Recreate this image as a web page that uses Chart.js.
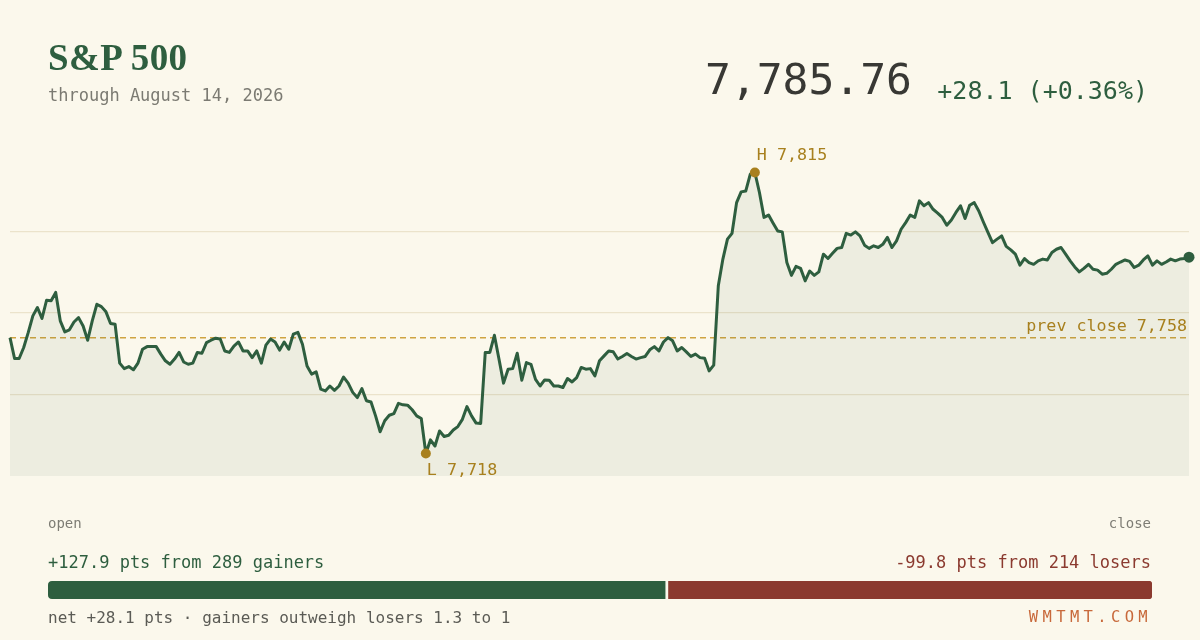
<!DOCTYPE html>
<html>
<head>
<meta charset="utf-8">
<script src="https://cdn.jsdelivr.net/npm/chart.js@4/dist/chart.umd.min.js"></script>
<style>
  html, body { margin: 0; padding: 0; background: #fbf8ec; }
  #wrap { position: relative; width: 1200px; height: 640px; overflow: hidden; background: #fbf8ec; }
  .t { position: absolute; line-height: 1; white-space: nowrap; font-family: "DejaVu Sans Mono", "Liberation Mono", monospace; }
  #title { left: 48px; top: 39px; font-family: "Liberation Serif", "DejaVu Serif", serif; font-weight: bold; font-size: 37px; letter-spacing: 0.4px; color: #2e5e3f; }
  #sub { left: 48px; top: 87px; font-size: 17px; color: #7b7a72; }
  #last { right: 288px; top: 58px; font-size: 43px; color: #383834; }
  #chg { right: 52px; top: 78px; font-size: 25px; color: #2e5e3f; }
  #open { left: 48px; top: 516px; font-size: 14px; color: #7d7c74; }
  #close { right: 49px; top: 516px; font-size: 14px; color: #7d7c74; }
  #gain { left: 48px; top: 554px; font-size: 17px; color: #2e5e3f; }
  #lose { right: 49px; top: 554px; font-size: 17px; color: #8b3a2f; }
  #net { left: 48px; top: 610px; font-size: 16px; color: #5b5b55; }
  #brand { right: 48px; top: 610px; font-size: 15.5px; letter-spacing: 4.35px; color: #c8693b; }
  #main { position: absolute; left: 0; top: 0; }
  #split { position: absolute; left: 48px; top: 581px; }
</style>
</head>
<body>
<div id="wrap">
  <canvas id="main" width="1200" height="640"></canvas>
  <div class="t" id="title"></div>
  <div class="t" id="sub"></div>
  <div class="t" id="last"></div>
  <div class="t" id="chg"></div>
  <div class="t" id="open">open</div>
  <div class="t" id="close">close</div>
  <div class="t" id="gain"></div>
  <div class="t" id="lose"></div>
  <div class="t" id="net"></div>
  <div class="t" id="brand">WMTMT.COM</div>
  <canvas id="split" width="1104" height="18"></canvas>
</div>
<script>
const TITLE = "S&P 500";
const AS_OF = "through August 14, 2026";
const PREV_CLOSE = 7758;
const LAST = 7785.76;
const CHANGE = 28.1;
const CHANGE_PCT = 0.36;
const GAIN_PTS = 127.9;
const GAINERS = 289;
const LOSS_PTS = 99.8;
const LOSERS = 214;

// intraday index level, open -> close
const prices = [
  7758.0, 7750.8, 7750.8, 7754.6, 7759.8, 7765.5, 7768.4, 7764.6, 7770.9, 7770.7,
  7773.6, 7763.8, 7760.0, 7760.7, 7763.4, 7764.9, 7762.0, 7757.1, 7763.8, 7769.5,
  7768.7, 7766.9, 7762.9, 7762.6, 7749.2, 7747.3, 7748.0, 7746.9, 7749.2, 7754.0,
  7754.9, 7754.9, 7754.9, 7752.3, 7750.0, 7748.8, 7750.6, 7752.9, 7749.6, 7748.8,
  7749.2, 7752.9, 7752.6, 7756.3, 7757.1, 7757.8, 7757.5, 7753.4, 7752.9, 7755.1,
  7756.5, 7753.4, 7753.4, 7751.1, 7753.4, 7749.2, 7755.4, 7757.5, 7756.5, 7753.7,
  7756.5, 7754.0, 7759.2, 7759.8, 7755.7, 7748.2, 7745.4, 7746.2, 7740.2, 7739.6,
  7741.3, 7739.8, 7741.3, 7744.4, 7742.3, 7739.1, 7737.3, 7740.4, 7736.2, 7735.8,
  7731.0, 7725.5, 7729.3, 7731.2, 7731.8, 7735.3, 7734.8, 7734.7, 7733.1, 7731.0,
  7730.1, 7718.0, 7722.7, 7720.6, 7725.8, 7723.9, 7724.3, 7726.1, 7727.3, 7729.8,
  7734.2, 7731.0, 7728.5, 7728.4, 7752.9, 7752.9, 7758.8, 7750.6, 7742.3, 7747.1,
  7747.3, 7752.6, 7743.3, 7749.4, 7748.8, 7743.6, 7741.3, 7743.4, 7743.3, 7741.3,
  7741.3, 7740.8, 7743.9, 7742.7, 7744.2, 7747.7, 7747.1, 7747.3, 7744.8, 7750.0,
  7751.7, 7753.4, 7753.1, 7750.6, 7751.5, 7752.5, 7751.5, 7750.6, 7751.1, 7751.5,
  7753.8, 7754.9, 7753.4, 7756.5, 7758.0, 7756.9, 7753.4, 7754.6, 7753.1, 7751.5,
  7752.3, 7751.1, 7750.9, 7746.5, 7748.5, 7775.9, 7785.1, 7792.0, 7794.0, 7804.6,
  7808.3, 7808.6, 7814.4, 7815.0, 7808.1, 7799.5, 7800.3, 7797.5, 7794.8, 7794.5,
  7783.9, 7779.5, 7782.6, 7781.9, 7777.6, 7781.0, 7779.5, 7780.7, 7786.8, 7785.3,
  7787.1, 7788.8, 7789.1, 7794.0, 7793.4, 7794.5, 7793.1, 7789.9, 7788.8, 7789.7,
  7789.1, 7790.2, 7792.6, 7789.1, 7791.4, 7795.4, 7797.7, 7800.3, 7799.5, 7805.2,
  7803.5, 7804.6, 7802.3, 7801.0, 7799.5, 7796.8, 7798.6, 7801.2, 7803.5, 7799.1,
  7803.7, 7804.6, 7801.7, 7797.9, 7794.3, 7790.8, 7792.0, 7793.1, 7789.5, 7788.3,
  7786.8, 7783.0, 7785.3, 7783.9, 7783.3, 7784.5, 7785.1, 7784.8, 7787.4, 7788.5,
  7789.1, 7786.8, 7784.5, 7782.4, 7780.7, 7781.9, 7783.3, 7781.6, 7781.3, 7779.9,
  7780.2, 7781.6, 7783.3, 7784.1, 7784.8, 7784.3, 7782.2, 7783.0, 7784.8, 7786.2,
  7783.0, 7784.5, 7783.3, 7784.1, 7785.1, 7784.5, 7785.1, 7785.3, 7785.76
];
const minutes = prices.map((_, i) => i);

const GREEN = "#2e5e3f";
const RED = "#8b3a2f";
const GOLD = "#a8801e";
const BG = "#fbf8ec";

const fmt = (v, d) => v.toLocaleString("en-US", { minimumFractionDigits: d, maximumFractionDigits: d });

// header / footer text
document.getElementById("title").textContent = TITLE;
document.getElementById("sub").textContent = AS_OF;
document.getElementById("last").textContent = fmt(LAST, 2);
document.getElementById("chg").textContent = "+" + fmt(CHANGE, 1) + " (+" + fmt(CHANGE_PCT, 2) + "%)";
document.getElementById("gain").textContent = "+" + fmt(GAIN_PTS, 1) + " pts from " + GAINERS + " gainers";
document.getElementById("lose").textContent = "-" + fmt(LOSS_PTS, 1) + " pts from " + LOSERS + " losers";
document.getElementById("net").textContent = "net +" + fmt(CHANGE, 1) + " pts \u00b7 gainers outweigh losers " + (GAIN_PTS / LOSS_PTS).toFixed(1) + " to 1";

const hi = Math.max(...prices);
const lo = Math.min(...prices);
const hiIdx = prices.indexOf(hi);
const loIdx = prices.indexOf(lo);
const lastIdx = prices.length - 1;
const pad = (hi - lo) * 0.08;
const yMin = lo - pad;
const yMax = hi + pad;

const MONO = '"DejaVu Sans Mono", "Liberation Mono", monospace';

const marks = {
  id: "marks",
  beforeDatasetsDraw(chart) {
    const { ctx, chartArea, scales } = chart;
    const y = scales.y.getPixelForValue(PREV_CLOSE);
    ctx.save();
    ctx.strokeStyle = "#cfa442";
    ctx.lineWidth = 1.5;
    ctx.setLineDash([6, 4]);
    ctx.beginPath();
    ctx.moveTo(chartArea.left, y);
    ctx.lineTo(chartArea.right, y);
    ctx.stroke();
    ctx.restore();
  },
  afterDatasetsDraw(chart) {
    const { ctx, chartArea, scales } = chart;
    ctx.save();
    ctx.font = "16.7px " + MONO;
    ctx.fillStyle = GOLD;
    ctx.textBaseline = "alphabetic";
    ctx.textAlign = "left";
    const hx = scales.x.getPixelForValue(hiIdx);
    const hy = scales.y.getPixelForValue(hi);
    ctx.fillText("H " + fmt(Math.round(hi), 0), hx + 2, hy - 12);
    const lx = scales.x.getPixelForValue(loIdx);
    const ly = scales.y.getPixelForValue(lo);
    ctx.fillText("L " + fmt(Math.round(lo), 0), lx + 1, ly + 21);
    ctx.textAlign = "right";
    ctx.fillText("prev close " + fmt(PREV_CLOSE, 0), chartArea.right - 2, scales.y.getPixelForValue(PREV_CLOSE) - 7);
    ctx.restore();
  }
};

new Chart(document.getElementById("main"), {
  type: "line",
  data: {
    labels: minutes,
    datasets: [{
      data: prices,
      borderColor: GREEN,
      borderWidth: 3,
      borderJoinStyle: "round",
      backgroundColor: "rgba(46, 94, 63, 0.065)",
      fill: "start",
      tension: 0,
      clip: false,
      pointRadius: (c) => (c.dataIndex === lastIdx ? 5.5 : (c.dataIndex === hiIdx || c.dataIndex === loIdx ? 5 : 0)),
      pointBackgroundColor: (c) => (c.dataIndex === lastIdx ? GREEN : GOLD),
      pointBorderWidth: 0,
      pointHoverRadius: 0
    }]
  },
  options: {
    responsive: false,
    animation: false,
    events: [],
    layout: { padding: { left: 10, right: 11, top: 150, bottom: 164 } },
    plugins: { legend: { display: false }, tooltip: { enabled: false } },
    scales: {
      x: { display: false, offset: false },
      y: {
        min: yMin,
        max: yMax,
        afterBuildTicks: (axis) => {
          const step = (yMax - yMin) / 4;
          axis.ticks = [0, 1, 2, 3, 4].map((k) => ({ value: yMin + k * step }));
        },
        ticks: { display: false },
        border: { display: false },
        grid: {
          drawTicks: false,
          lineWidth: 1.3,
          color: (c) => (c.index === 0 || c.index === 4 ? "rgba(0,0,0,0)" : "#ebe3cb")
        }
      }
    }
  },
  plugins: [marks]
});

// gainers vs losers split bar
new Chart(document.getElementById("split"), {
  type: "bar",
  data: {
    labels: ["breadth"],
    datasets: [
      { data: [GAIN_PTS], backgroundColor: GREEN, borderColor: BG, borderWidth: { right: 3 }, borderSkipped: false,
        borderRadius: { topLeft: 4, bottomLeft: 4, topRight: 0, bottomRight: 0 } },
      { data: [LOSS_PTS], backgroundColor: RED, borderWidth: 0, borderSkipped: false,
        borderRadius: { topLeft: 0, bottomLeft: 0, topRight: 4, bottomRight: 4 } }
    ]
  },
  options: {
    indexAxis: "y",
    responsive: false,
    animation: false,
    events: [],
    layout: { padding: 0 },
    plugins: { legend: { display: false }, tooltip: { enabled: false } },
    datasets: { bar: { barPercentage: 1, categoryPercentage: 1 } },
    scales: {
      x: { stacked: true, display: false, min: 0, max: GAIN_PTS + LOSS_PTS },
      y: { stacked: true, display: false }
    }
  }
});
</script>
</body>
</html>
